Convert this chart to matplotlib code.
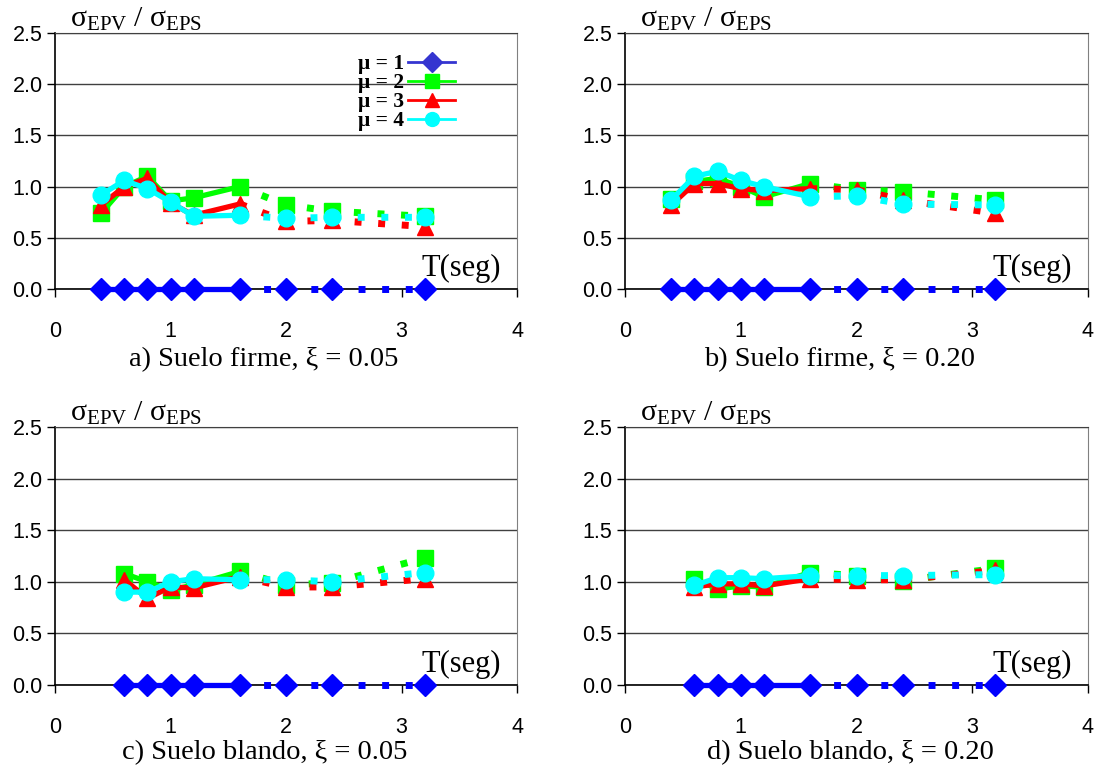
import matplotlib
matplotlib.use("Agg")
import matplotlib.pyplot as plt
from matplotlib.lines import Line2D

plt.rcParams['mathtext.fontset'] = 'custom'
plt.rcParams['mathtext.rm'] = 'Liberation Serif'
plt.rcParams['mathtext.it'] = 'Liberation Serif:italic'
plt.rcParams['mathtext.bf'] = 'Liberation Serif:bold'

# ---------------- data ----------------
T_top = [0.4, 0.6, 0.8, 1.0, 1.2, 1.6, 2.0, 2.4, 3.2]
T_bot = [0.6, 0.8, 1.0, 1.2, 1.6, 2.0, 2.4, 3.2]

a_mu1 = [0.0, 0.0, 0.0, 0.0, 0.0, 0.0, 0.0, 0.0, 0.0]
a_mu2 = [0.74, 1.00, 1.10, 0.86, 0.89, 1.00, 0.82, 0.76, 0.71]
a_mu3 = [0.82, 1.00, 1.08, 0.84, 0.72, 0.83, 0.66, 0.67, 0.61]
a_mu4 = [0.92, 1.06, 0.98, 0.85, 0.71, 0.72, 0.69, 0.70, 0.70]

b_mu1 = [0.0, 0.0, 0.0, 0.0, 0.0, 0.0, 0.0, 0.0, 0.0]
b_mu2 = [0.88, 1.05, 1.08, 1.00, 0.90, 1.03, 0.97, 0.95, 0.87]
b_mu3 = [0.82, 1.03, 1.03, 0.98, 0.96, 0.98, 0.97, 0.87, 0.74]
b_mu4 = [0.87, 1.10, 1.15, 1.06, 1.00, 0.90, 0.91, 0.83, 0.82]

c_mu1 = [0.0, 0.0, 0.0, 0.0, 0.0, 0.0, 0.0, 0.0]
c_mu2 = [1.08, 1.00, 0.92, 0.97, 1.10, 0.97, 0.99, 1.23]
c_mu3 = [1.02, 0.84, 0.95, 0.94, 1.05, 0.95, 0.95, 1.03]
c_mu4 = [0.90, 0.90, 1.00, 1.03, 1.02, 1.02, 1.00, 1.09]

d_mu1 = [0.0, 0.0, 0.0, 0.0, 0.0, 0.0, 0.0, 0.0]
d_mu2 = [1.03, 0.93, 0.96, 0.95, 1.09, 1.06, 1.01, 1.13]
d_mu3 = [0.95, 0.98, 0.98, 0.96, 1.03, 1.02, 1.02, 1.11]
d_mu4 = [0.965, 1.04, 1.04, 1.03, 1.06, 1.06, 1.06, 1.07]

mu_labels = ['μ = 1', 'μ = 2', 'μ = 3', 'μ = 4']
captions = ['a) Suelo firme, ξ = 0.05', 'b) Suelo firme, ξ = 0.20',
            'c) Suelo blando, ξ = 0.05', 'd) Suelo blando, ξ = 0.20']
y_ticks = [0.0, 0.5, 1.0, 1.5, 2.0, 2.5]
x_ticks = [0, 1, 2, 3, 4]
T_split = 1.6

# ---------------- style ----------------
colors = ['#0000FF', '#00FF00', '#FF0000', '#00FFFF']
markers = ['D', 's', '^', 'o']
msizes = [11.5, 11, 11.5, 12]

W, H = 1097, 768
fig = plt.figure(figsize=(W / 100, H / 100), dpi=100)

boxes = [(55, 33, 517, 289), (625, 33, 1088, 289),
         (55, 427, 517, 685), (625, 427, 1088, 685)]
cap_pos = [(264, 360), (840, 360), (265, 753), (850, 753)]

panels = [
    (T_top, [a_mu1, a_mu2, a_mu3, a_mu4]),
    (T_top, [b_mu1, b_mu2, b_mu3, b_mu4]),
    (T_bot, [c_mu1, c_mu2, c_mu3, c_mu4]),
    (T_bot, [d_mu1, d_mu2, d_mu3, d_mu4]),
]

serif = 'Liberation Serif'
sans = 'Liberation Sans'

for i, ((x0, y0, x1, y1), (T, series)) in enumerate(zip(boxes, panels)):
    ax = fig.add_axes([x0 / W, 1 - y1 / H, (x1 - x0) / W, (y1 - y0) / H])
    ax.set_xlim(0, 4)
    ax.set_ylim(0, 2.5)
    ax.set_yticks(y_ticks)
    ax.set_yticklabels([f'{v:.1f}' for v in y_ticks])
    ax.set_xticks(x_ticks)
    ax.set_xticklabels([str(v) for v in x_ticks])
    for lab in ax.get_xticklabels() + ax.get_yticklabels():
        lab.set_fontfamily(sans)
        lab.set_fontsize(15.5)
    ax.tick_params(axis='x', direction='out', length=6, width=1, pad=17, colors='#000000')
    ax.tick_params(axis='y', direction='out', length=6, width=1, pad=3)
    ax.grid(axis='y', color='#404040', lw=1.0)
    ax.set_axisbelow(True)
    ax.spines['left'].set_color('#000000')
    ax.spines['bottom'].set_color('#000000')
    ax.spines['left'].set_linewidth(1.2)
    ax.spines['bottom'].set_linewidth(1.2)
    ax.spines['right'].set_color('#808080')
    ax.spines['top'].set_color('#404040')

    for k, vals in enumerate(series):
        Ts = [t for t in T if t <= T_split]
        Vs = [v for t, v in zip(T, vals) if t <= T_split]
        Td = [t for t in T if t >= T_split]
        Vd = [v for t, v in zip(T, vals) if t >= T_split]
        ax.plot(Ts, Vs, color=colors[k], lw=3.8, solid_capstyle='butt',
                zorder=3 + k, clip_on=False)
        ax.plot(Td, Vd, color=colors[k], lw=5, linestyle=(0, (1.0, 2.4)),
                dash_capstyle='butt', zorder=3 + k, clip_on=False)
        ax.plot(T, vals, linestyle='none', marker=markers[k], ms=msizes[k],
                color=colors[k], mec=colors[k], zorder=3 + k, clip_on=False)

    ax.text(0.033, 1.0, r'$\mathrm{σ}_{\mathrm{EPV}}\ /\ \mathrm{σ}_{\mathrm{EPS}}$',
            transform=ax.transAxes, fontsize=21.5, va='bottom', ha='left')
    ax.text(0.965, 0.025, 'T(seg)', transform=ax.transAxes, fontsize=22,
            family=serif, ha='right', va='bottom')
    cx, cy = cap_pos[i]
    fig.text(cx / W, 1 - cy / H, captions[i], fontsize=20.5, family=serif,
             ha='center', va='center')

    if i == 0:
        handles = [Line2D([], [], color=colors[k], marker=markers[k], ms=10, lw=2)
                   for k in range(4)]
        handles[0].set_color('#3535D0')
        leg = ax.legend(handles, mu_labels, loc='upper right',
                        bbox_to_anchor=(0.89, 0.96), frameon=False,
                        markerfirst=False, handlelength=2.2, handletextpad=0.2,
                        labelspacing=-0.05, borderpad=0,
                        prop={'family': serif, 'weight': 'bold', 'size': 15.5})

fig.savefig('out.png', dpi=100)
